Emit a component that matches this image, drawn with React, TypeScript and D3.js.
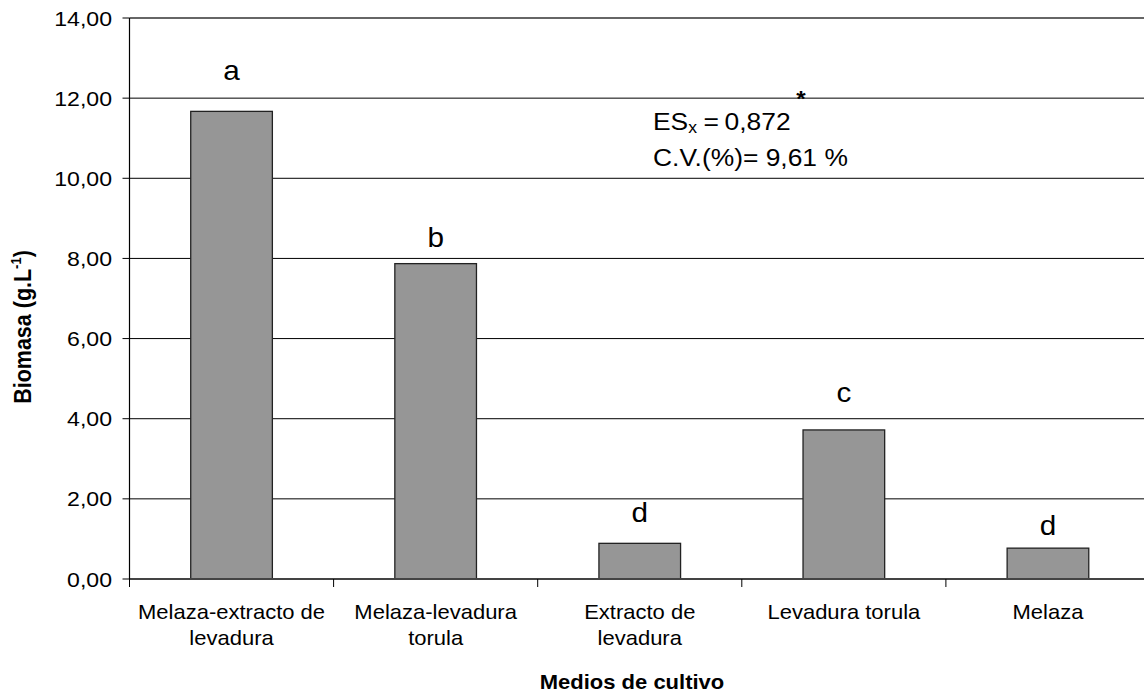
import React from "react";
import * as d3 from "d3";

const categories: string[][] = [
  ["Melaza-extracto de", "levadura"],
  ["Melaza-levadura", "torula"],
  ["Extracto de", "levadura"],
  ["Levadura torula"],
  ["Melaza"],
];
const biomass: number[] = [11.67, 7.87, 0.89, 3.72, 0.77];
const letters: string[] = ["a", "b", "d", "c", "d"];
const letterLevels: number[] = [12.45, 8.275, 1.425, 4.425, 1.1];
const yTicks: number[] = [0, 2, 4, 6, 8, 10, 12, 14];

const W = 1144;
const H = 693;
const SX = 1.1;
const FONT = "'Liberation Sans', Arial, Helvetica, sans-serif";

const T = ({
  x, y, size, anchor = "start", weight = "normal", rotate = 0, children,
}: any) => (
  <text
    transform={`translate(${x},${y}) scale(${SX},1)${rotate ? ` rotate(${rotate})` : ""}`}
    fontSize={size}
    fontFamily={FONT}
    fontWeight={weight}
    textAnchor={anchor}
    fill="#000"
  >
    {children}
  </text>
);

export default function App() {
  const left = 129.5;
  const right = 1150;
  const top = 18;
  const bottom = 579;
  const y = d3.scaleLinear().domain([0, 14]).range([bottom, top]);
  const idx = categories.map((_, i) => String(i));
  const x = d3.scaleBand().domain(idx).range([left, right]).paddingInner(0.6).paddingOuter(0.3);
  const step = x.step();
  const fmt = (v: number) => d3.format(".2f")(v).replace(".", ",");

  return (
    <svg width={W} height={H} style={{ position: "absolute", left: 0, top: 0, background: "#fff" }}>
      <rect x={0} y={0} width={W} height={H} fill="#fff" />
      {/* gridlines */}
      {yTicks.filter((t) => t > 0 && t < 14).map((t) => (
        <line key={t} x1={left} x2={right} y1={y(t)} y2={y(t)} stroke="#000" strokeWidth={1} />
      ))}
      <line x1={left} x2={right} y1={y(14)} y2={y(14)} stroke="#666" strokeWidth={2} />
      {/* bars */}
      {biomass.map((v, i) => (
        <rect
          key={i}
          x={x(String(i))!}
          y={y(v)}
          width={x.bandwidth()}
          height={y(0) - y(v)}
          fill="#969696"
          stroke="#222"
          strokeWidth={1.3}
        />
      ))}
      {/* x axis */}
      <line x1={left} x2={right} y1={bottom} y2={bottom} stroke="#444" strokeWidth={1.8} />
      {d3.range(categories.length + 1).map((i) => (
        <line key={i} x1={left + i * step} x2={left + i * step} y1={bottom} y2={bottom + 8} stroke="#000" strokeWidth={1} />
      ))}
      {/* y axis */}
      <line x1={left} x2={left} y1={top} y2={bottom} stroke="#000" strokeWidth={1.2} />
      {yTicks.map((t) => (
        <g key={t}>
          <line x1={left - 7} x2={left} y1={y(t)} y2={y(t)} stroke="#000" strokeWidth={1} />
          <T x={112} y={y(t) + 7.5} size={21} anchor="end">{fmt(t)}</T>
        </g>
      ))}
      {/* category labels */}
      {categories.map((lines, i) =>
        lines.map((ln, j) => (
          <T key={`${i}-${j}`} x={x(String(i))! + x.bandwidth() / 2} y={619 + j * 26} size={20} anchor="middle">
            {ln}
          </T>
        ))
      )}
      {/* significance letters */}
      {letters.map((l, i) => (
        <T key={i} x={x(String(i))! + x.bandwidth() / 2} y={y(letterLevels[i])} size={27} anchor="middle">
          {l}
        </T>
      ))}
      {/* annotation */}
      <T x={653} y={130} size={24}>
        ES
        <tspan fontSize={16} dy={3}>x</tspan>
        <tspan dy={-3} dx={6}>=</tspan>
        <tspan dx={5}>0,872</tspan>
      </T>
      <T x={801} y={106} size={22} anchor="middle" weight="bold">*</T>
      <T x={653} y={166} size={24}>C.V.(%)= 9,61 %</T>
      {/* axis titles */}
      <T x={632} y={689} size={20} anchor="middle" weight="bold">Medios de cultivo</T>
      <T x={31} y={327} size={21.5} anchor="middle" weight="bold" rotate={-90}>
        Biomasa (g.L
        <tspan fontSize={13} dy={-9}>-1</tspan>
        <tspan dy={9}>)</tspan>
      </T>
    </svg>
  );
}
